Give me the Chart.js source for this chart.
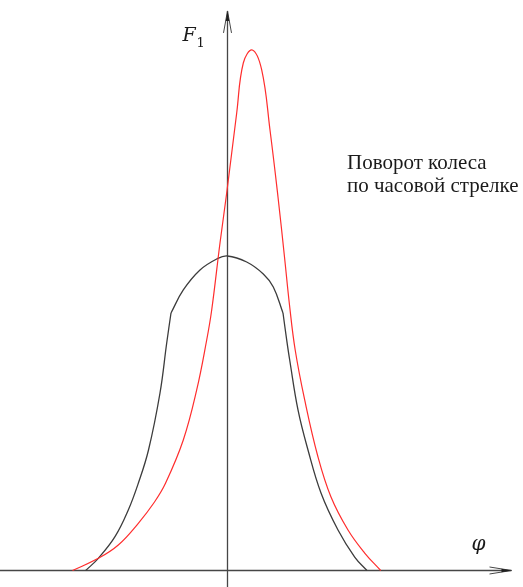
<!DOCTYPE html>
<html>
<head>
<meta charset="utf-8">
<script src="https://cdn.jsdelivr.net/npm/chart.js@4/dist/chart.umd.min.js"></script>
<style>
  html, body { margin: 0; padding: 0; background: #fff; }
  #wrap { position: relative; width: 523px; height: 587px; }
</style>
</head>
<body>
<div id="wrap"><canvas id="c" width="523" height="587"></canvas></div>
<script>
// Force F1 versus wheel angle phi (arbitrary units)
const redPhi = [-15.5, -12.92, -10.92, -8.92, -7.3, -6.2, -4.42, -3.08, -2.08, -1.58, -0.75, -0.08, 0.92, 1.58, 2.48, 3.42, 4.25, 5.05, 5.7, 6.2, 6.77, 7.72, 9.05, 10.35, 12.05, 13.72, 15.32];
const redF   = [0, 0.234, 0.49, 0.907, 1.316, 1.675, 2.507, 3.468, 4.428, 5.005, 6.292, 7.253, 8.79, 9.75, 10.0, 9.616, 8.463, 7.176, 6.023, 5.101, 4.236, 3.276, 2.181, 1.412, 0.778, 0.336, 0];

// Black curve: rising flank, rounded top, falling flank (joined at the two kinks)
const blackLeftPhi  = [-14.18, -12.92, -11.25, -9.92, -8.92, -7.9, -6.75, -6.08, -5.65];
const blackLeftF    = [0, 0.234, 0.649, 1.162, 1.675, 2.315, 3.41, 4.371, 4.947];
const blackTopPhi   = [-5.65, -4.42, -2.75, -1.08, -0.02, 1.92, 3.58, 4.58, 5.55];
const blackTopF     = [4.947, 5.389, 5.773, 5.984, 6.042, 5.927, 5.696, 5.447, 4.947];
const blackRightPhi = [5.55, 5.92, 6.22, 7.05, 8.05, 9.35, 11.05, 12.72, 13.95];
const blackRightF   = [4.947, 4.428, 4.044, 3.084, 2.315, 1.489, 0.778, 0.259, 0];

const pts = (xs, ys) => xs.map((x, i) => ({ x, y: ys[i] }));

const RED = 'rgb(255,45,45)';
const BLACK = 'rgb(60,60,60)';

function line(data, color, width) {
  return {
    data, borderColor: color, borderWidth: width, pointRadius: 0,
    fill: false, tension: 0.4
  };
}

// Axes with arrowheads and labels, placed via the chart scales
const axesPlugin = {
  id: 'axesArrows',
  beforeDatasetsDraw(chart) {
    const { ctx, scales: { x, y } } = chart;
    const x0 = x.getPixelForValue(0);
    const y0 = y.getPixelForValue(0);
    const yTop = y.getPixelForValue(10.75);
    const xEnd = x.getPixelForValue(28.4);
    ctx.save();
    ctx.strokeStyle = 'rgb(70,70,70)';
    ctx.lineWidth = 1.3;
    ctx.beginPath();
    ctx.moveTo(x0, chart.height);
    ctx.lineTo(x0, yTop);
    ctx.moveTo(0, y0);
    ctx.lineTo(xEnd, y0);
    ctx.stroke();

    // arrowheads: narrow, open barbs with a filled tip
    ctx.lineWidth = 1;
    ctx.beginPath();
    ctx.moveTo(x0 - 4, yTop + 22); ctx.lineTo(x0, yTop); ctx.lineTo(x0 + 4, yTop + 22);
    ctx.moveTo(xEnd - 22, y0 - 3.5); ctx.lineTo(xEnd, y0); ctx.lineTo(xEnd - 22, y0 + 3.5);
    ctx.stroke();
    ctx.fillStyle = 'rgb(30,30,30)';
    ctx.beginPath();
    ctx.moveTo(x0, yTop); ctx.lineTo(x0 - 1.8, yTop + 10); ctx.lineTo(x0 + 1.8, yTop + 10); ctx.closePath();
    ctx.moveTo(xEnd, y0); ctx.lineTo(xEnd - 10, y0 - 1.8); ctx.lineTo(xEnd - 10, y0 + 1.8); ctx.closePath();
    ctx.fill();

    // axis labels
    ctx.fillStyle = '#1a1a1a';
    ctx.textBaseline = 'alphabetic';
    ctx.textAlign = 'left';
    ctx.font = 'italic 19px "DejaVu Serif"';
    ctx.fillText('F', x0 - 45, 41);
    ctx.font = '13px "DejaVu Serif"';
    ctx.fillText('1', x0 - 31, 47);
    ctx.font = 'italic 20px "DejaVu Serif"';
    ctx.fillText('φ', x0 + 244, 550);

    // annotation
    ctx.font = '21px "Liberation Serif"';
    ctx.fillText('Поворот колеса', 347, 169);
    ctx.fillText('по часовой стрелке', 347, 192);
    ctx.restore();
  }
};

new Chart(document.getElementById('c'), {
  type: 'line',
  data: {
    datasets: [
      line(pts(redPhi, redF), RED, 1.2),
      line(pts(blackLeftPhi, blackLeftF), BLACK, 1.3),
      line(pts(blackTopPhi, blackTopF), BLACK, 1.3),
      line(pts(blackRightPhi, blackRightF), BLACK, 1.3)
    ]
  },
  options: {
    responsive: false,
    animation: false,
    layout: { padding: 0 },
    plugins: { legend: { display: false }, tooltip: { enabled: false } },
    scales: {
      x: { type: 'linear', min: -22.75, max: 29.55, display: false },
      y: { type: 'linear', min: -0.317, max: 10.96, display: false }
    }
  },
  plugins: [axesPlugin]
});
</script>
</body>
</html>
